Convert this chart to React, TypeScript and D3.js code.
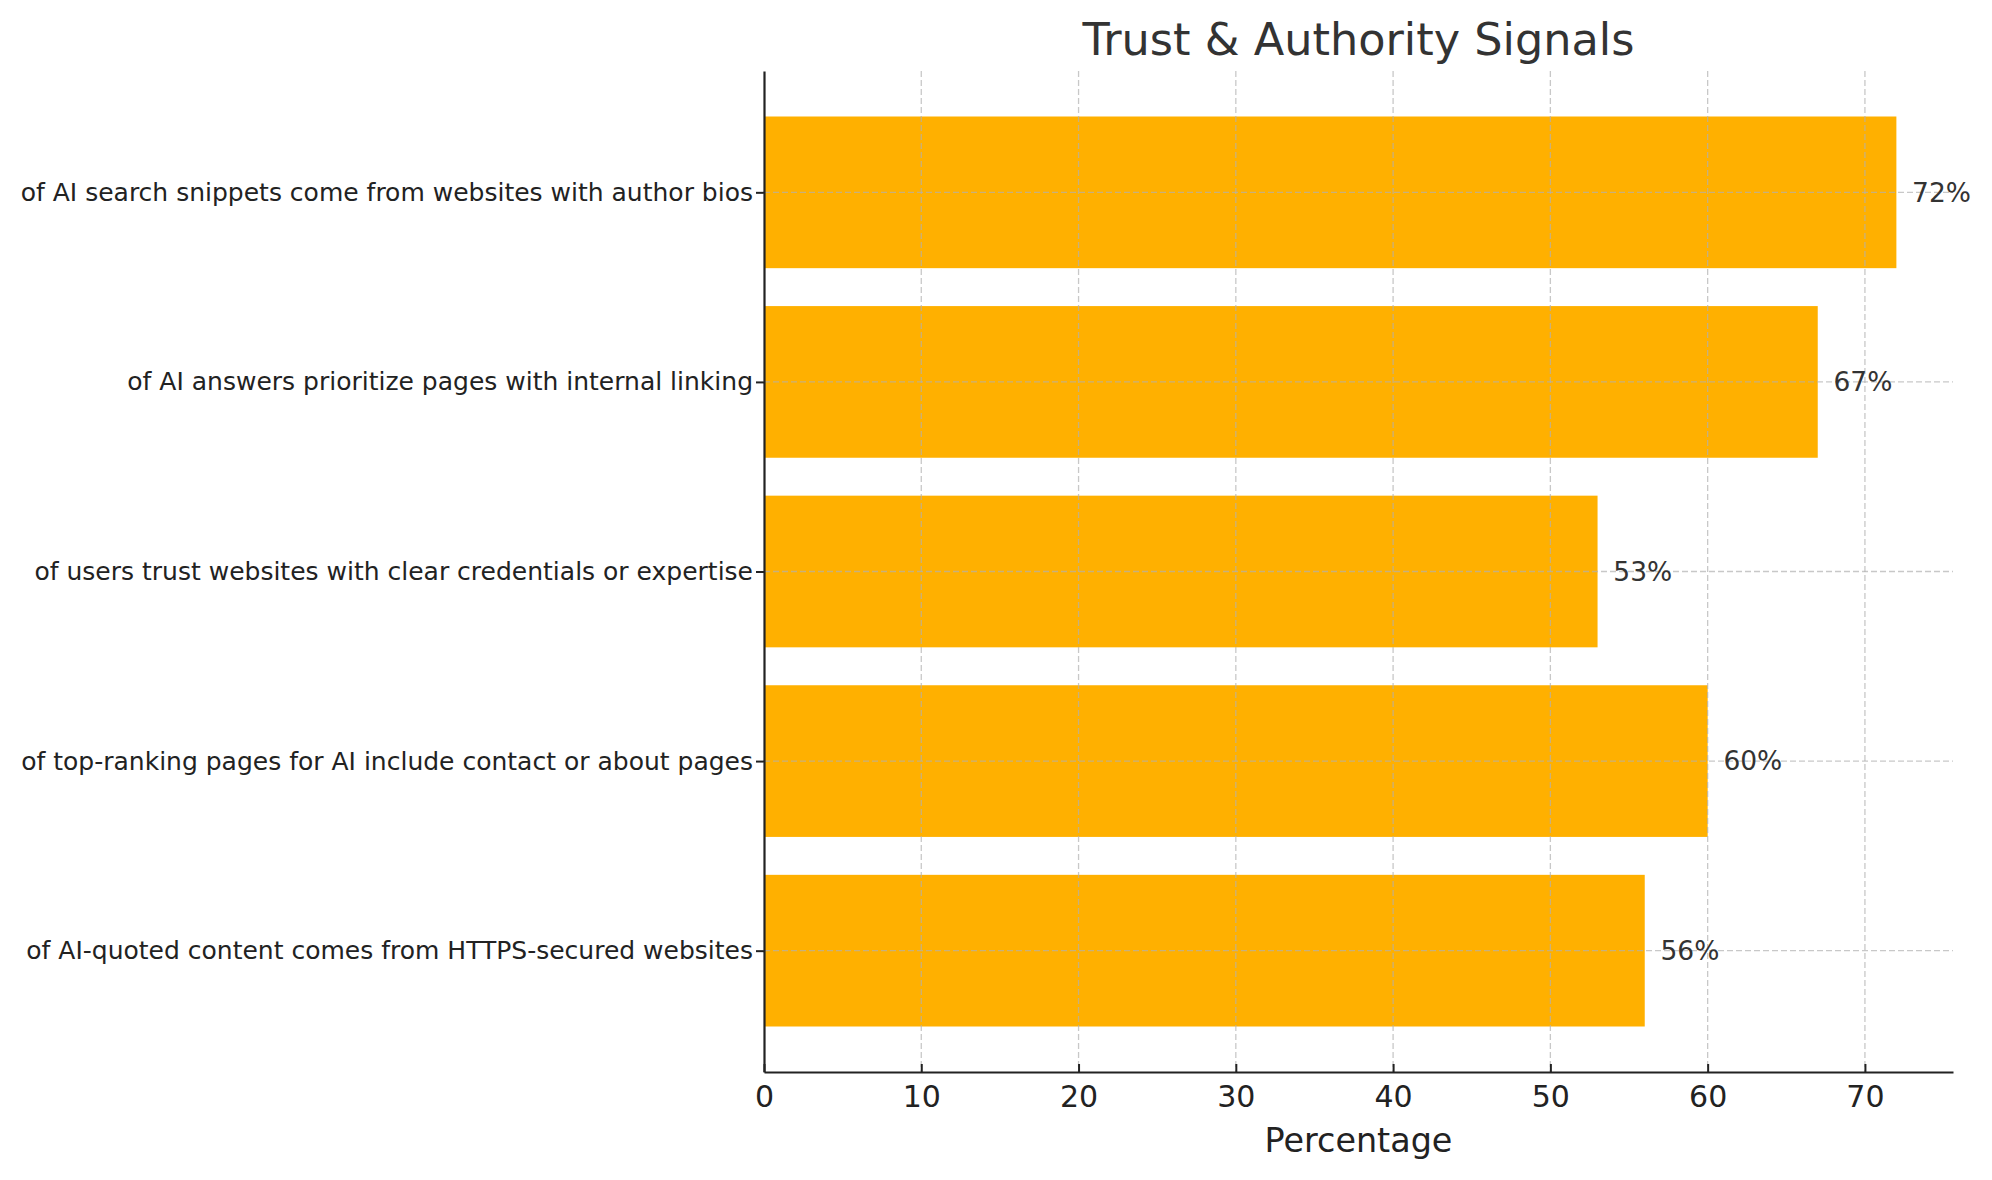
import React, { useEffect, useRef } from "react";
import * as d3 from "d3";

const width = 1992;
const height = 1180;
const margin = { top: 71, right: 39, bottom: 108, left: 764 };

// top to bottom, as drawn
const categories = [
  "of AI search snippets come from websites with author bios",
  "of AI answers prioritize pages with internal linking",
  "of users trust websites with clear credentials or expertise",
  "of top-ranking pages for AI include contact or about pages",
  "of AI-quoted content comes from HTTPS-secured websites",
];
const values = [72, 67, 53, 60, 56];
const xTicks = [0, 10, 20, 30, 40, 50, 60, 70];

const barColor = "#FFB000";
const font = "DejaVu Sans, sans-serif";

const App = () => {
  const xAxisRef = useRef<SVGGElement>(null);
  const yAxisRef = useRef<SVGGElement>(null);

  const innerW = width - margin.left - margin.right;
  const innerH = height - margin.top - margin.bottom;

  // matplotlib style margins: 5% each side of data range
  const xMax = d3.max(values)! * 1.05;
  const xScale = d3.scaleLinear().domain([0, xMax]).range([0, innerW]);
  // bar centers at index positions, bar height 0.8, padded by 0.24 each side
  const n = categories.length;
  const yScale = d3
    .scaleLinear()
    .domain([-0.64, n - 1 + 0.64])
    .range([0, innerH]);
  const barH = yScale(0.8) - yScale(0);

  useEffect(() => {
    const xAxis = d3
      .axisBottom(xScale)
      .tickValues(xTicks)
      .tickSizeInner(-8)
      .tickSizeOuter(0)
      .tickPadding(14);
    const gx = d3.select(xAxisRef.current).call(xAxis as any);
    gx.select(".domain").attr("stroke", "#222").attr("stroke-width", 2.2);
    gx.selectAll(".tick line").attr("stroke", "#222").attr("stroke-width", 2);
    gx.selectAll(".tick text")
      .attr("font-size", 30)
      .attr("font-family", font)
      .attr("fill", "#222");

    const yAxis = d3
      .axisLeft(d3.scaleLinear().domain(yScale.domain()).range(yScale.range()))
      .tickValues(d3.range(n))
      .tickFormat((d: any) => categories[d])
      .tickSize(8)
      .tickSizeOuter(0)
      .tickPadding(3);
    const gy = d3.select(yAxisRef.current).call(yAxis as any);
    gy.select(".domain").attr("stroke", "#222").attr("stroke-width", 2.2);
    gy.selectAll(".tick line").attr("stroke", "#222").attr("stroke-width", 2);
    gy.selectAll(".tick text")
      .attr("font-size", 25)
      .attr("font-family", font)
      .attr("fill", "#222");
  }, []);

  return (
    <svg
      width={width}
      height={height}
      style={{ position: "absolute", left: 0, top: 0, background: "#fff" }}
    >
      <g transform={`translate(${margin.left}, ${margin.top})`}>
        {values.map((v, i) => (
          <rect
            key={i}
            x={0}
            y={yScale(i) - barH / 2}
            width={xScale(v)}
            height={barH}
            fill={barColor}
          />
        ))}
        <g>
          {xTicks.slice(1).map(t => (
            <line
              key={t}
              x1={xScale(t)}
              x2={xScale(t)}
              y1={0}
              y2={innerH}
              stroke="#b0b0b0"
              strokeOpacity={0.7}
              strokeWidth={1.3}
              strokeDasharray="6,3"
            />
          ))}
          {categories.map((c, i) => (
            <line
              key={c}
              x1={0}
              x2={innerW}
              y1={yScale(i)}
              y2={yScale(i)}
              stroke="#b0b0b0"
              strokeOpacity={0.7}
              strokeWidth={1.3}
              strokeDasharray="6,3"
            />
          ))}
        </g>
        {values.map((v, i) => (
          <text
            key={i}
            x={xScale(v + 1)}
            y={yScale(i)}
            dy="0.35em"
            fontSize={26.5}
            fontFamily={font}
            fill="#333"
          >
            {`${v}%`}
          </text>
        ))}
        <g ref={yAxisRef} />
        <g ref={xAxisRef} transform={`translate(0, ${innerH})`} />
        <text
          x={innerW / 2}
          y={innerH + 80}
          textAnchor="middle"
          fontSize={33.4}
          fontFamily={font}
          fill="#222"
        >
          Percentage
        </text>
      </g>
      <text
        x={margin.left + innerW / 2}
        y={55}
        textAnchor="middle"
        fontSize={44.6}
        fontFamily={font}
        fill="#333"
      >
        Trust &amp; Authority Signals
      </text>
    </svg>
  );
};

export default App;
